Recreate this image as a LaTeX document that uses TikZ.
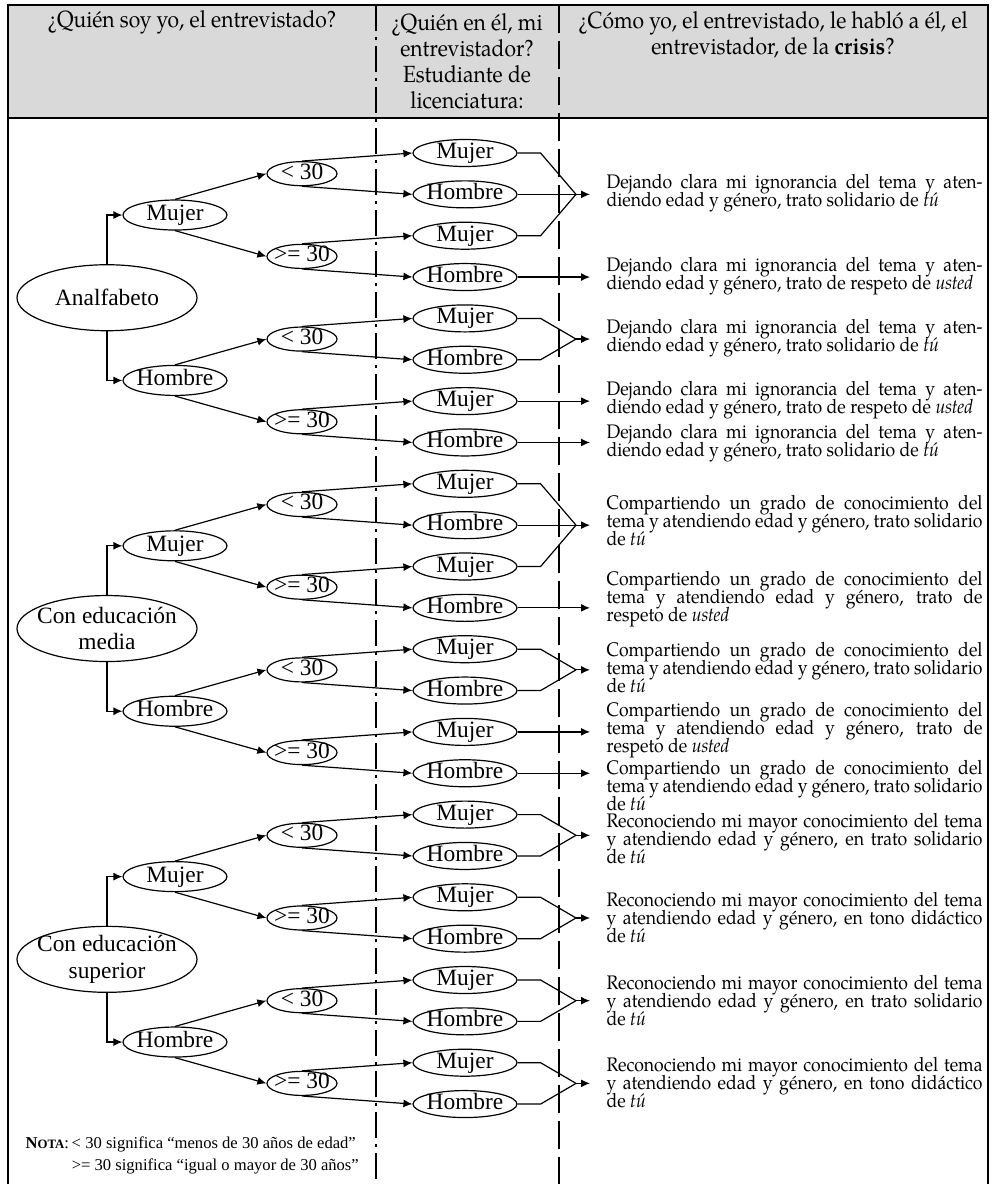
\documentclass[tikz,border=0pt]{standalone}
\usepackage{fontspec}
\setmainfont[FakeStretch=0.9]{TeX Gyre Pagella}
\newfontfamily\timesfont{Liberation Serif}
\usetikzlibrary{shapes.geometric,arrows.meta}

\definecolor{headgray}{RGB}{217,217,217}
\newcommand\tightlines{\lineskiplimit -20pt\relax}

% texts of the answers
\newcommand\ignTu{Dejando clara mi ignorancia del tema y aten-\linebreak diendo edad y género, trato solidario de \emph{tú}}
\newcommand\ignUsted{Dejando clara mi ignorancia del tema y aten-\linebreak diendo edad y género, trato de respeto de \emph{usted}}
\newcommand\comTu{Compartiendo un grado de conocimiento del\linebreak tema y atendiendo edad y género, trato solidario\linebreak de \emph{tú}}
\newcommand\comUsted{Compartiendo un grado de conocimiento del\linebreak tema y atendiendo edad y género, trato de\linebreak respeto de \emph{usted}}
\newcommand\recTu{Reconociendo mi mayor conocimiento del tema\linebreak y atendiendo edad y género, en trato solidario\linebreak de \emph{tú}}
\newcommand\recDid{Reconociendo mi mayor conocimiento del tema\linebreak y atendiendo edad y género, en tono didáctico\linebreak de \emph{tú}}

\tikzset{
  >={Latex[length=4.5pt,width=4pt]},
  tree/.style={ellipse, draw, fill=white, font=\timesfont\fontsize{11.7}{13.3}\selectfont, inner sep=0pt},
  edubox/.style={tree, minimum width=90pt, minimum height=33pt, inner xsep=-3.5pt, inner ysep=-1pt, align=center},
  sexbox/.style={tree, minimum width=52pt, minimum height=15pt, inner xsep=-1pt, inner ysep=-1pt, text height=8pt, text depth=2.5pt},
  agebox/.style={tree, minimum width=35pt, minimum height=12pt, inner xsep=-2pt, inner ysep=-1pt, text height=8pt, text depth=2.5pt},
  leafbox/.style={sexbox, minimum height=13.5pt},
  outtext/.style={anchor=west, text width=188pt, align=justify, inner sep=0pt,
    font=\fontsize{9.8}{9}\selectfont\tightlines},
  headtext/.style={align=center, inner sep=0pt, font=\fontsize{11.7}{13}\selectfont\tightlines},
  sepleft/.style={dash pattern=on 13pt off 3pt on 1.5pt off 3pt},
  sepright/.style={dash pattern=on 14pt off 4pt}
}

\begin{document}
\begin{tikzpicture}[x=0.5pt, y=-0.5pt, line width=0.6pt]
  \useasboundingbox (0,0) rectangle (992,1184);

  % header and frame
  \fill[headgray] (8,5) rectangle (988,118);
  \draw[sepleft] (376,5) -- (376,1184);
  \draw[sepright] (559,5) -- (559,1184);
  \draw[line width=1pt] (8,1184) -- (8,5) -- (988,5) -- (988,1184);
  \draw[line width=1pt] (8,118) -- (988,118);

  \node[headtext] (h1) at (192,22) {¿Quién soy yo, el entrevistado?};
  \node[headtext] (h2) at (467,61) {¿Quién en él, mi\\entrevistador?\\Estudiante de\\licenciatura:};
  \node[headtext] (h3) at (773,35) {¿Cómo yo, el entrevistado, le habló a él, el\\entrevistador, de la \textbf{crisis}?};

  % the tree: education, sex, age, interviewer
  \foreach \g/\edu in {0/Analfabeto, 1/{Con educación\\media}, 2/{Con educación\\superior}} {
    \node[edubox] (e\g) at (107,{153+41.35*(8*\g+3.5)}) {\edu};
    \foreach \s/\sex/\sside in {0/Mujer/north, 1/Hombre/south} {
      \node[sexbox] (s\g\s) at (175,{153+41.35*(8*\g+4*\s+1.5)}) {\sex};
      \draw[->] (e\g.\sside) |- (s\g\s.west);
      \foreach \a/\age/\aside in {0/{< 30}/north, 1/{>= 30}/south} {
        \node[agebox] (a\g\s\a) at (302,{153+41.35*(8*\g+4*\s+2*\a+0.5)}) {\age};
        \draw[->] (s\g\s.\aside) -- (a\g\s\a.west);
        \foreach \l/\who/\lside in {0/Mujer/north, 1/Hombre/south} {
          \node[leafbox] (l\g\s\a\l) at (465,{153+41.35*(8*\g+4*\s+2*\a+\l)}) {\who};
          \draw[->] (a\g\s\a.\lside) -- (l\g\s\a\l.west);
        }
      }
    }
  }

  % leaves to answers, first two groups
  \foreach \g in {0,1} {
    \coordinate (f\g00) at (576,{153+41.35*(8*\g+1)});
    \coordinate (p\g00) at (590,{153+41.35*(8*\g+1)});
    \draw (l\g000.east) -- ++(23,0) -- (f\g00);
    \draw (l\g001.east) -- (f\g00);
    \draw (l\g010.east) -- ++(23,0) -- (f\g00);
    \draw[->] (f\g00) -- (p\g00);
    \coordinate (q\g011) at (590,{153+41.35*(8*\g+3)});
    \draw[->] (l\g011.east) -- (q\g011);
    \coordinate (f\g10) at (576,{153+41.35*(8*\g+4.5)});
    \coordinate (p\g10) at (590,{153+41.35*(8*\g+4.5)});
    \draw (l\g100.east) -- ++(23,0) -- (f\g10);
    \draw (l\g101.east) -- ++(23,0) -- (f\g10);
    \draw[->] (f\g10) -- (p\g10);
    \coordinate (q\g110) at (590,{153+41.35*(8*\g+6)});
    \coordinate (q\g111) at (590,{153+41.35*(8*\g+7)});
    \draw[->] (l\g110.east) -- (q\g110);
    \draw[->] (l\g111.east) -- (q\g111);
  }
  % third group, always in pairs
  \foreach \s in {0,1} {
    \foreach \a in {0,1} {
      \coordinate (f2\s\a) at (576,{153+41.35*(16+4*\s+2*\a+0.5)});
      \coordinate (p2\s\a) at (590,{153+41.35*(16+4*\s+2*\a+0.5)});
      \draw (l2\s\a0.east) -- ++(23,0) -- (f2\s\a);
      \draw (l2\s\a1.east) -- ++(23,0) -- (f2\s\a);
      \draw[->] (f2\s\a) -- (p2\s\a);
    }
  }

  % answers
  \node[outtext] (t1) at (606,193) {\ignTu};
  \node[outtext] (t2) at (606,276) {\ignUsted};
  \node[outtext] (t3) at (606,338) {\ignTu};
  \node[outtext] (t4) at (606,400) {\ignUsted};
  \node[outtext] (t5) at (606,443) {\ignTu};
  \node[outtext] (t6) at (606,521) {\comTu};
  \node[outtext] (t7) at (606,599) {\comUsted};
  \node[outtext] (t8) at (606,668) {\comTu};
  \node[outtext] (t9) at (606,730) {\comUsted};
  \node[outtext] (t10) at (606,786) {\comTu};
  \node[outtext] (t11) at (606,839) {\recTu};
  \node[outtext] (t12) at (606,918) {\recDid};
  \node[outtext] (t13) at (606,1001) {\recTu};
  \node[outtext] (t14) at (606,1083) {\recDid};

  % note
  \node[anchor=west, inner sep=0pt, font=\timesfont\fontsize{8.3}{11}\selectfont] (nota) at (25,1155)
    {\begin{tabular}{@{}l@{\,}l@{}}
      {\bfseries N{\fontsize{6.4}{11}\selectfont OTA}}: & < 30 significa “menos de 30 años de edad”\\
      & >= 30 significa “igual o mayor de 30 años”
    \end{tabular}};
\end{tikzpicture}
\end{document}
